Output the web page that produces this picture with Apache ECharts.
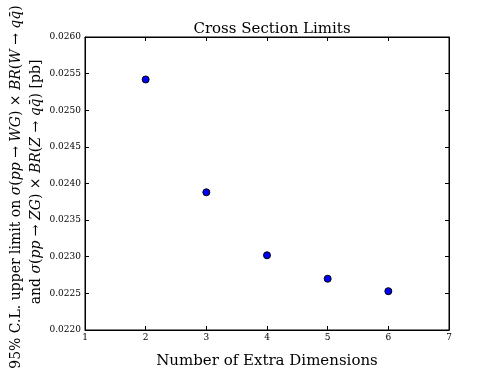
<!DOCTYPE html>
<html><head><meta charset="utf-8">
<script src="https://cdn.jsdelivr.net/npm/echarts@6/dist/echarts.min.js"></script>
<style>html,body{margin:0;padding:0;background:#fff}#c{width:498px;height:374px}</style>
</head><body><div id="c"></div>
<script>
const dimensions = [2, 3, 4, 5, 6];
const limits = [0.02542, 0.02388, 0.02302, 0.02270, 0.02253];
const xTicks = [1, 2, 3, 4, 5, 6, 7];
const yTicks = [0.0220, 0.0225, 0.0230, 0.0235, 0.0240, 0.0245, 0.0250, 0.0255, 0.0260];
const titleText = 'Cross Section Limits';
const xLabel = 'Number of Extra Dimensions';

const serif = '"DejaVu Serif", "Liberation Serif", serif';
const chart = echarts.init(document.getElementById('c'));
const tickCommon = {show: true, inside: true, length: 4, lineStyle: {color: '#000', width: 1}};
chart.setOption({
  animation: false,
  title: {text: titleText, left: 267, textAlign: 'center', top: 17,
    textStyle: {fontFamily: serif, fontSize: 15, fontWeight: 'normal', color: '#000'}},
  grid: {left: 85, right: 49, top: 37, bottom: 39, show: true, borderColor: '#000', borderWidth: 1},
  xAxis: [{
    type: 'value', min: xTicks[0], max: xTicks[xTicks.length - 1], interval: 1,
    name: xLabel, nameLocation: 'middle', nameGap: 24,
    nameTextStyle: {fontFamily: serif, fontSize: 15, color: '#000'},
    axisLine: {show: true, lineStyle: {color: '#000'}},
    axisTick: tickCommon, splitLine: {show: false},
    axisLabel: {fontFamily: serif, fontSize: 9, color: '#000', margin: 3}
  }, {
    type: 'value', position: 'top', min: xTicks[0], max: xTicks[xTicks.length - 1], interval: 1,
    axisLine: {show: true, lineStyle: {color: '#000'}}, axisTick: tickCommon,
    axisLabel: {show: false}, splitLine: {show: false}
  }],
  yAxis: [{
    type: 'value', min: yTicks[0], max: yTicks[yTicks.length - 1], interval: 0.0005,
    axisLine: {show: true, lineStyle: {color: '#000'}},
    axisTick: tickCommon, splitLine: {show: false},
    axisLabel: {fontFamily: serif, fontSize: 9, color: '#000', margin: 4,
      formatter: v => v.toFixed(4)}
  }, {
    type: 'value', position: 'right', min: yTicks[0], max: yTicks[yTicks.length - 1], interval: 0.0005,
    axisLine: {show: true, lineStyle: {color: '#000'}}, axisTick: tickCommon,
    axisLabel: {show: false}, splitLine: {show: false}
  }],
  graphic: [{
    type: 'text', x: 16, y: 187, rotation: Math.PI / 2,
    style: {
      text: '95% C.L. upper limit on {i|σ}({i|pp} → {i|WG}) × {i|BR}({i|W} → {i|qq̄})',
      font: '14px ' + serif, fill: '#000', align: 'center', verticalAlign: 'middle',
      rich: {i: {fontStyle: 'italic', fontFamily: serif, fontSize: 14}}
    }
  }, {
    type: 'text', x: 36, y: 182, rotation: Math.PI / 2,
    style: {
      text: 'and {i|σ}({i|pp} → {i|ZG}) × {i|BR}({i|Z} → {i|qq̄}) [pb]',
      font: '14px ' + serif, fill: '#000', align: 'center', verticalAlign: 'middle',
      rich: {i: {fontStyle: 'italic', fontFamily: serif, fontSize: 14}}
    }
  }],
  series: [{
    type: 'scatter', xAxisIndex: 0, yAxisIndex: 0,
    data: dimensions.map((d, i) => [d, limits[i]]),
    symbol: 'circle', symbolSize: 7,
    itemStyle: {color: '#0000ff', borderColor: '#000', borderWidth: 1, opacity: 1}
  }]
});
</script></body></html>
